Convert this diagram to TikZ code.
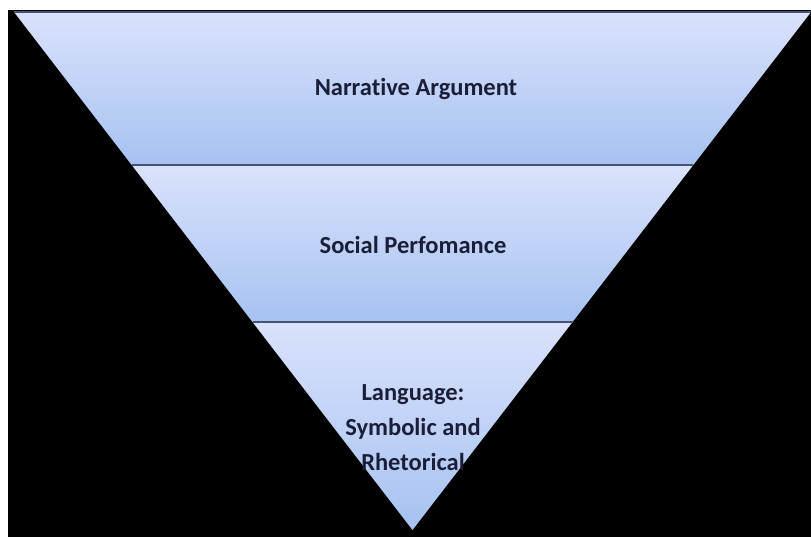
\documentclass[tikz,border=0pt]{standalone}
\usepackage{fontspec}
\setmainfont{Carlito}[Ligatures=NoCommon]
\usetikzlibrary{calc}

\definecolor{bandtop}{RGB}{218,226,252}
\definecolor{bandbot}{RGB}{166,194,241}
\definecolor{rim}{RGB}{70,84,112}
\definecolor{ink}{RGB}{28,30,56}

\begin{document}
\begin{tikzpicture}[x=1pt,y=-1pt,
    band/.style={top color=bandtop,bottom color=bandbot},
    rimline/.style={draw=rim,line width=1.6pt},
    lbl/.style={text=ink,font=\fontsize{24.5}{35}\selectfont\bfseries,align=center}]
    \useasboundingbox (0,0) rectangle (811,537);
    \fill[black] (8,10) rectangle (811,537);

    % corners of the funnel
    \coordinate (tl) at (14,12);
    \coordinate (tr) at (811,12);
    \coordinate (ap) at (412.5,530);
    \coordinate (l1) at ($(tl)!0.2954!(ap)$);
    \coordinate (r1) at ($(tr)!0.2954!(ap)$);
    \coordinate (l2) at ($(tl)!0.5985!(ap)$);
    \coordinate (r2) at ($(tr)!0.5985!(ap)$);

    \shade[band] (tl) -- (tr) -- (r1) -- (l1) -- cycle;
    \shade[band] (l1) -- (r1) -- (r2) -- (l2) -- cycle;
    \shade[band] (l2) -- (r2) -- (ap) -- cycle;

    \draw[rimline] (tl) -- (tr);
    \draw[rimline] (l1) -- (r1);
    \draw[rimline] (l2) -- (r2);

    \node[lbl] (narr) at (416,89)  {Narrative Argument};
    \node[lbl] (soc)  at (413,245) {Social Perfomance};
    \node[lbl] (lang) at (413,428) {Language:\\Symbolic and\\Rhetorical};
\end{tikzpicture}
\end{document}
